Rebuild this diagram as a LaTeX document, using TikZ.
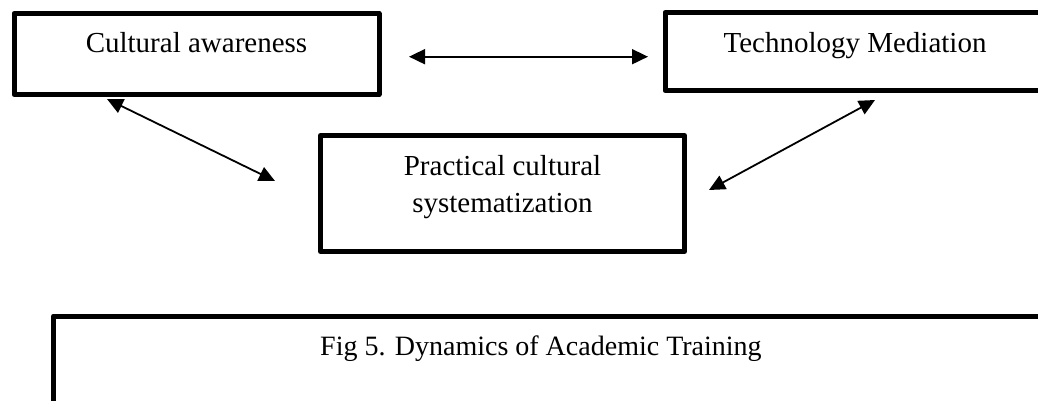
\documentclass[tikz,border=0pt]{standalone}
\usepackage{fontspec}
\setmainfont{Liberation Serif}
\usetikzlibrary{arrows.meta,calc}

\tikzset{
  frame/.style={draw=black, line width=5pt, line join=round, rectangle, inner sep=0pt},
  label text/.style={font=\fontsize{29}{37}\selectfont, inner sep=0pt, align=center},
  biarrow/.style={line width=1.8pt, {Triangle[length=16pt,width=15pt]}-{Triangle[length=16pt,width=15pt]}}
}

\begin{document}
\begin{tikzpicture}[x=1pt, y=-1pt]
  \useasboundingbox (0,0) rectangle (1038,400);
  \clip (0,0) rectangle (1038,400);

  % three concept boxes
  \node[frame, minimum width=365pt, minimum height=81pt] (aware) at (196.5,54) {};
  \node[frame, minimum width=381pt, minimum height=78pt] (tech) at (855.5,51.5) {};
  \node[frame, minimum width=364pt, minimum height=116pt] (practice) at (502.5,193.5) {};

  % captions inside the boxes
  \node[label text, anchor=base] (awaretxt) at (196.5,52) {Cultural awareness};
  \node[label text, anchor=base] (techtxt) at (855,52) {Technology Mediation};
  \node[label text, anchor=base] (practicetxt) at (502.5,212) {Practical cultural\\systematization};

  % figure caption frame
  \node[frame, minimum width=1040pt, minimum height=140pt, anchor=north west] (figbox) at (51,313.5) {};
  \node[label text, anchor=base west, font=\fontsize{28}{37}\selectfont] (figtxt) at (320,355) {Fig 5. Dynamics of Academic Training};

  % two-way links between the concepts
  \coordinate (a1) at (409,56.7);
  \coordinate (a2) at (648,56.7);
  \coordinate (b1) at (107,99);
  \coordinate (b2) at (275,181);
  \coordinate (c1) at (875,100);
  \coordinate (c2) at (709,190);
  \draw[biarrow] (a1) -- (a2);
  \draw[biarrow] (b1) -- (b2);
  \draw[biarrow] (c1) -- (c2);
\end{tikzpicture}
\end{document}
